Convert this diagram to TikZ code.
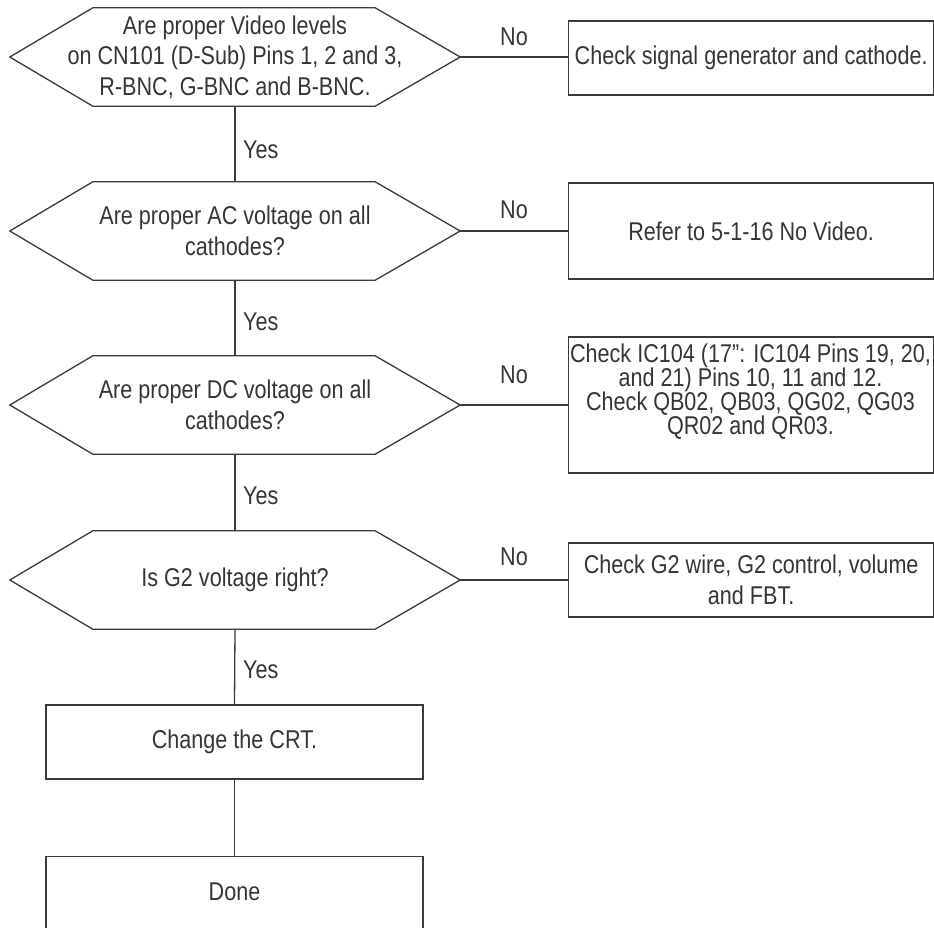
\documentclass[tikz,border=0pt]{standalone}
\usepackage{fontspec}
\setmainfont{Liberation Sans}[FakeStretch=0.84]
\definecolor{lc}{HTML}{3A3A3A}
\definecolor{tc}{HTML}{353535}
\tikzset{
  ln/.style={draw=lc, line width=1.3pt},
  qnode/.style={minimum width=450pt, minimum height=98pt, align=center, inner sep=0pt},
  rbox/.style={ln, align=center, anchor=west, minimum width=365pt, inner sep=0pt},
  lbl/.style={inner sep=0pt},
  pbox/.style={ln, minimum width=377pt, align=center, inner sep=0pt}
}
\newcommand\hexpath[1]{\draw[ln] (#1.west) -- ([xshift=83pt]#1.north west) -- ([xshift=-85pt]#1.north east) -- (#1.east) -- ([xshift=-85pt]#1.south east) -- ([xshift=83pt]#1.south west) -- cycle;}
\begin{document}
\begin{tikzpicture}[x=1pt,y=-1pt, every node/.style={text=tc, font=\fontsize{25.7}{30.5}\selectfont}]
\useasboundingbox (0,0) rectangle (934,927);
\clip (0,0) rectangle (934,927);
% decisions
\node[qnode] (q1) at (235,57) {Are proper Video levels\\on CN101 (D-Sub) Pins 1, 2 and 3,\\R-BNC, G-BNC and B-BNC.};
\node[qnode] (q2) at (235,231) {Are proper AC voltage on all\\cathodes?};
\node[qnode] (q3) at (235,405) {Are proper DC voltage on all\\cathodes?};
\node[qnode] (q4) at (235,580) {Is G2 voltage right?};
\hexpath{q1}\hexpath{q2}\hexpath{q3}\hexpath{q4}
% right boxes
\node[rbox, minimum height=74pt] (r1) at (568,58) {Check signal generator and cathode.};
\node[rbox, minimum height=96pt] (r2) at (568,231) {Refer to 5-1-16 No Video.};
\node[rbox, minimum height=136pt] (r3) at (568,405) {};
\node[lbl, align=center, font=\fontsize{25.7}{24}\selectfont] (r3t) at (750.5,391.5) {Check IC104 (17”: IC104 Pins 19, 20,\\and 21) Pins 10, 11 and 12.\\Check QB02, QB03, QG02, QG03\\QR02 and QR03.};
\node[rbox, minimum height=74pt] (r4) at (568,580) {Check G2 wire, G2 control, volume\\and FBT.};
% process boxes
\node[pbox, minimum height=74pt] (crt) at (234.5,742) {Change the CRT.};
\node[pbox, anchor=north, text height=44pt, text depth=60pt] (done) at (234.5,856) {Done};
% connectors
\draw[ln] (q1.south) -- (q2.north);
\draw[ln] (q2.south) -- (q3.north);
\draw[ln] (q3.south) -- (q4.north);
\draw[ln] (q4.south) -- (crt.north);
\draw[ln] (crt.south) -- (done.north);
\draw[ln] (q1.east) -- (q1.east -| r1.west);
\draw[ln] (q2.east) -- (q2.east -| r2.west);
\draw[ln] (q3.east) -- (q3.east -| r3.west);
\draw[ln] (q4.east) -- (q4.east -| r4.west);
% labels
\node[lbl, anchor=west] (y1) at (243,150) {Yes};
\node[lbl, anchor=west] (y2) at (243,322) {Yes};
\node[lbl, anchor=west] (y3) at (243,496) {Yes};
\node[lbl, anchor=west] (y4) at (243,670) {Yes};
\node[lbl] (n1) at (514,37) {No};
\node[lbl] (n2) at (514,210) {No};
\node[lbl] (n3) at (514,375) {No};
\node[lbl] (n4) at (514,557) {No};
\end{tikzpicture}
\end{document}
